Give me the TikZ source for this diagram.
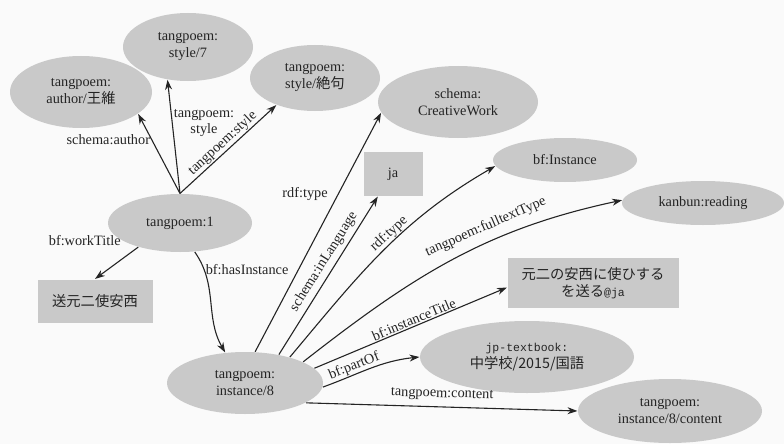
\documentclass[tikz,border=0pt]{standalone}
\usepackage{fontspec}
\setmainfont{Liberation Serif}
\setmonofont{Liberation Mono}
\newfontfamily\cjk{Noto Sans CJK JP}
\usepackage{tikz}
\usetikzlibrary{arrows.meta, shapes}
\definecolor{nodegray}{RGB}{201,201,201}
\definecolor{inkgray}{RGB}{36,36,36}
\definecolor{paper}{RGB}{250,250,250}
\newcommand{\jmono}[1]{{\ttfamily\fontsize{11.5}{17}\selectfont #1}}

\begin{document}
\begin{tikzpicture}[x=1pt, y=1pt, color=inkgray, line width=1.1pt,
    font=\fontsize{14.3}{17}\selectfont,
    >={Stealth[length=10pt,width=7pt]},
    res/.style={ellipse, fill=nodegray, inner sep=0pt, align=center},
    lit/.style={rectangle, fill=nodegray, inner sep=0pt, align=center},
    lab/.style={inner sep=1pt, font=\fontsize{14.3}{16}\selectfont}]
\fill[paper] (0,0) rectangle (784,-444);
\begin{scope}
    \node[res, minimum width=142pt, minimum height=72pt] (Au) at (81,-92) {tangpoem:\\author/{\cjk 王維}};
    \node[res, minimum width=130pt, minimum height=68pt] (S7) at (188,-47) {tangpoem:\\style/7};
    \node[res, minimum width=130pt, minimum height=66pt] (SJ) at (315,-78) {tangpoem:\\style/{\cjk 絶句}};
    \node[res, minimum width=144pt, minimum height=58pt] (P) at (180,-223) {tangpoem:1};
    \node[lit, minimum width=115pt, minimum height=43pt] (T) at (95,-301) {\cjk 送元二使安西};
    \node[res, minimum width=156pt, minimum height=62pt] (I) at (245,-383) {tangpoem:\\instance/8};

    \path [->] (P.north) edge node[lab, pos=0.68, left] {schema:author} (Au.-21);
    \path [->] (P.north) edge node[lab, pos=0.62, right, align=center] {tangpoem:\\style} (S7.-122);
    \path [->] (P.north) edge node[lab, pos=0.5, sloped, above] {tangpoem:style} (SJ.-145);
    \path [->] (P.-150) edge node[lab, pos=0, above left, xshift=-16pt] {bf:workTitle} (T.north);
    \path [->] (P.-63) edge[out=-55, in=120] node[lab, pos=0.18, right] {bf:hasInstance} (I.123);
\end{scope}

\begin{scope}
    \node[res, minimum width=160pt, minimum height=72pt] (CW) at (458,-102) {schema:\\CreativeWork};
    \node[lit, minimum width=59pt, minimum height=44pt] (ja) at (393,-174) {ja};
    \node[res, minimum width=144pt, minimum height=44pt] (BI) at (565,-160) {bf:Instance};
    \node[res, minimum width=162pt, minimum height=44pt] (KR) at (703,-203) {kanbun:reading};
    \node[lit, minimum width=171pt, minimum height=50pt] (IT) at (593,-283) {{\cjk 元二の安西に使ひする}\\{\cjk を送る}\jmono{@ja}};
    \node[res, minimum width=214pt, minimum height=72pt] (JP) at (527,-357) {\jmono{jp-textbook:}\\{\cjk 中学校/2015/国語}};
    \node[res, minimum width=184pt, minimum height=64pt] (C) at (670,-411) {tangpoem:\\instance/8/content};

    \path [->] (I.72) edge node[lab, pos=0.66, left=9pt] {rdf:type} (CW.-172);
    \path [->] (I.40) edge node[lab, pos=0.55, sloped, above=3pt] {schema:inLanguage} (ja.-124);
    \path [->] (I.30) edge[out=50, in=-150] node[lab, pos=0.56, sloped, above] {rdf:type} (BI.-175);
    \path [->] (I.20) edge[out=38, in=-168] node[lab, pos=0.63, sloped, above=7pt] {tangpoem:fulltextType} (KR.178);
    \path [->] (I.12) edge node[lab, pos=0.53, sloped, above] {bf:instanceTitle} (IT.-177);
    \path [->] (I.-3) edge[out=20, in=-174] node[lab, pos=0.35, sloped, above] {bf:partOf} (JP.west);
    \path [->] (I.-18) edge node[lab, pos=0.5, sloped, above=5pt] {tangpoem:content} (C.west);
\end{scope}
\end{tikzpicture}
\end{document}
